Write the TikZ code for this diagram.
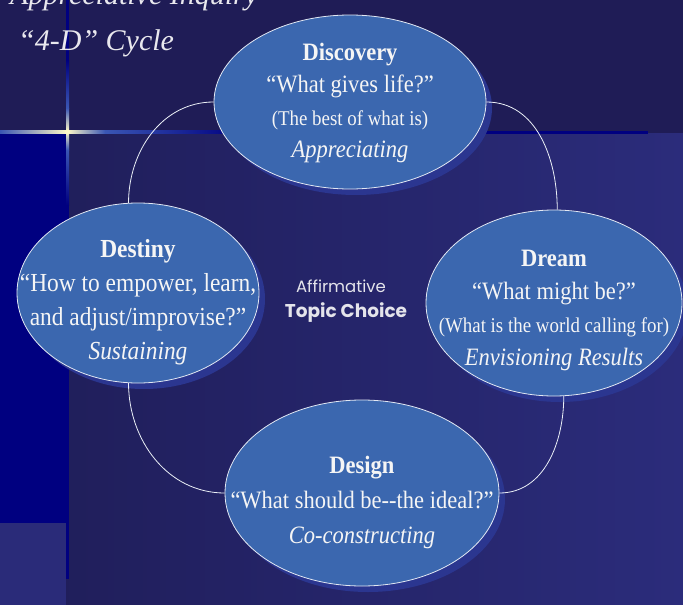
\documentclass[tikz,border=0pt]{standalone}
\usepackage{fontspec}
\setmainfont{Liberation Serif}[FakeStretch=0.9]
\newfontfamily\titlefont{Liberation Serif}
\newfontfamily\gothic{Poppins}
\usetikzlibrary{positioning, shapes.geometric, shadows}

\definecolor{bgtop}{HTML}{1F1C56}
\definecolor{bgleft}{HTML}{1F1D58}
\definecolor{bgright}{HTML}{2B2C7B}
\definecolor{navy}{HTML}{000080}
\definecolor{bgblock}{HTML}{2A2B79}
\definecolor{glowblue}{HTML}{3A56B4}
\definecolor{starlight}{HTML}{FFF9C8}
\definecolor{ellfill}{HTML}{3B67AF}
\definecolor{ellshade}{HTML}{2B3690}
\definecolor{txt}{HTML}{F5F5F5}

\begin{document}
\begin{tikzpicture}[
        x=1pt, y=1pt,
        phase/.style={ellipse, draw=white!85!ellfill, line width=0.8pt, fill=ellfill,
          general shadow={fill=ellshade, shadow xshift=6pt, shadow yshift=-6pt},
          inner sep=0pt},
        phasetext/.style={inner sep=0pt, text=txt, align=center},
        cyc/.style={draw=white!90!ellfill, line width=0.8pt},
        ttl/.style={inner sep=0pt, anchor=base west, text=white!90!bgtop,
          font=\titlefont\itshape\fontsize{30}{36}\selectfont},
        mid/.style={inner sep=0pt, text=white!88!bgtop}
      ]
      \useasboundingbox (0,0) rectangle (683,-605);
      \clip (0,0) rectangle (683,-605);
      % background
      \fill[bgtop] (0,0) rectangle (683,-133);
      \shade[left color=bgleft, right color=bgright] (0,-133) rectangle (683,-605);
      \fill[navy] (0,-133) rectangle (69,-579);
      \fill[bgblock] (0,-523) rectangle (66,-605);
      \fill[navy] (0,-130.5) rectangle (648,-133.5);
      \fill[navy] (66,0) rectangle (69,-133);
      % glow round the star
      \shade[left color=glowblue, right color=starlight] (0,-130.5) rectangle (67,-133.5);
      \shade[left color=starlight, right color=glowblue] (67,-130.5) rectangle (105,-133.5);
      \shade[left color=glowblue, right color=navy] (105,-130.5) rectangle (240,-133.5);
      \shade[top color=navy, bottom color=glowblue] (66,-60) rectangle (69,-108);
      \shade[top color=glowblue, bottom color=starlight] (66,-108) rectangle (69,-131);
      \shade[top color=starlight, bottom color=glowblue] (66,-131) rectangle (69,-150);
      \shade[top color=glowblue, bottom color=navy] (66,-150) rectangle (69,-205);
      \fill[starlight] (67.5,-132) circle (2.5);

      % title
      \node[ttl] (ttl1) at (10,-5) {Appreciative Inquiry};
      \node[ttl] (ttl2) at (18,-50) {“4-D” Cycle};

      % the four phases
      \node[phase, minimum width=272, minimum height=174] (disc) at (350,-102) {};
      \node[phase, minimum width=256, minimum height=186] (dream) at (554,-303) {};
      \node[phase, minimum width=242, minimum height=180] (dest) at (138,-293) {};
      \node[phase, minimum width=274, minimum height=186] (design) at (362,-493) {};

      \node[phasetext, font=\fontsize{25}{32.5}\selectfont] (discT) at ([yshift=-1]disc.center)
        {\textbf{Discovery}\\ “What gives life?”\\
         {\fontsize{21}{25}\selectfont (The best of what is)}\\ \textit{Appreciating}};
      \node[phasetext, font=\fontsize{25}{33}\selectfont] (dreamT) at ([yshift=-7]dream.center)
        {\textbf{Dream}\\ “What might be?”\\
         {\fontsize{21}{25}\selectfont (What is the world calling for)}\\ \textit{Envisioning Results}};
      \node[phasetext, font=\fontsize{26}{34}\selectfont] (destT) at ([yshift=-9]dest.center)
        {\textbf{Destiny}\\ “How to empower, learn,\\ and adjust/improvise?”\\ \textit{Sustaining}};
      \node[phasetext, font=\fontsize{25}{35}\selectfont] (designT) at ([yshift=-9]design.center)
        {\textbf{Design}\\ “What should be-{}-the ideal?”\\ \textit{Co-constructing}};

      % cycle
      \draw[cyc] (disc.west) to[out=180, in=90] (dest.96);
      \draw[cyc] (dest.264) to[out=-90, in=180] (design.west);
      \draw[cyc] (design.east) to[out=0, in=-90] (dream.276);
      \draw[cyc] (dream.88) to[out=90, in=0] (disc.east);

      % centre
      \node[mid, font=\gothic\fontsize{16.5}{20}\selectfont, anchor=base] (aff) at (341,-292) {Affirmative};
      \node[mid, font=\gothic\bfseries\fontsize{18.5}{20}\selectfont, anchor=base] (topic) at (346,-317) {Topic Choice};
    \end{tikzpicture}
\end{document}
